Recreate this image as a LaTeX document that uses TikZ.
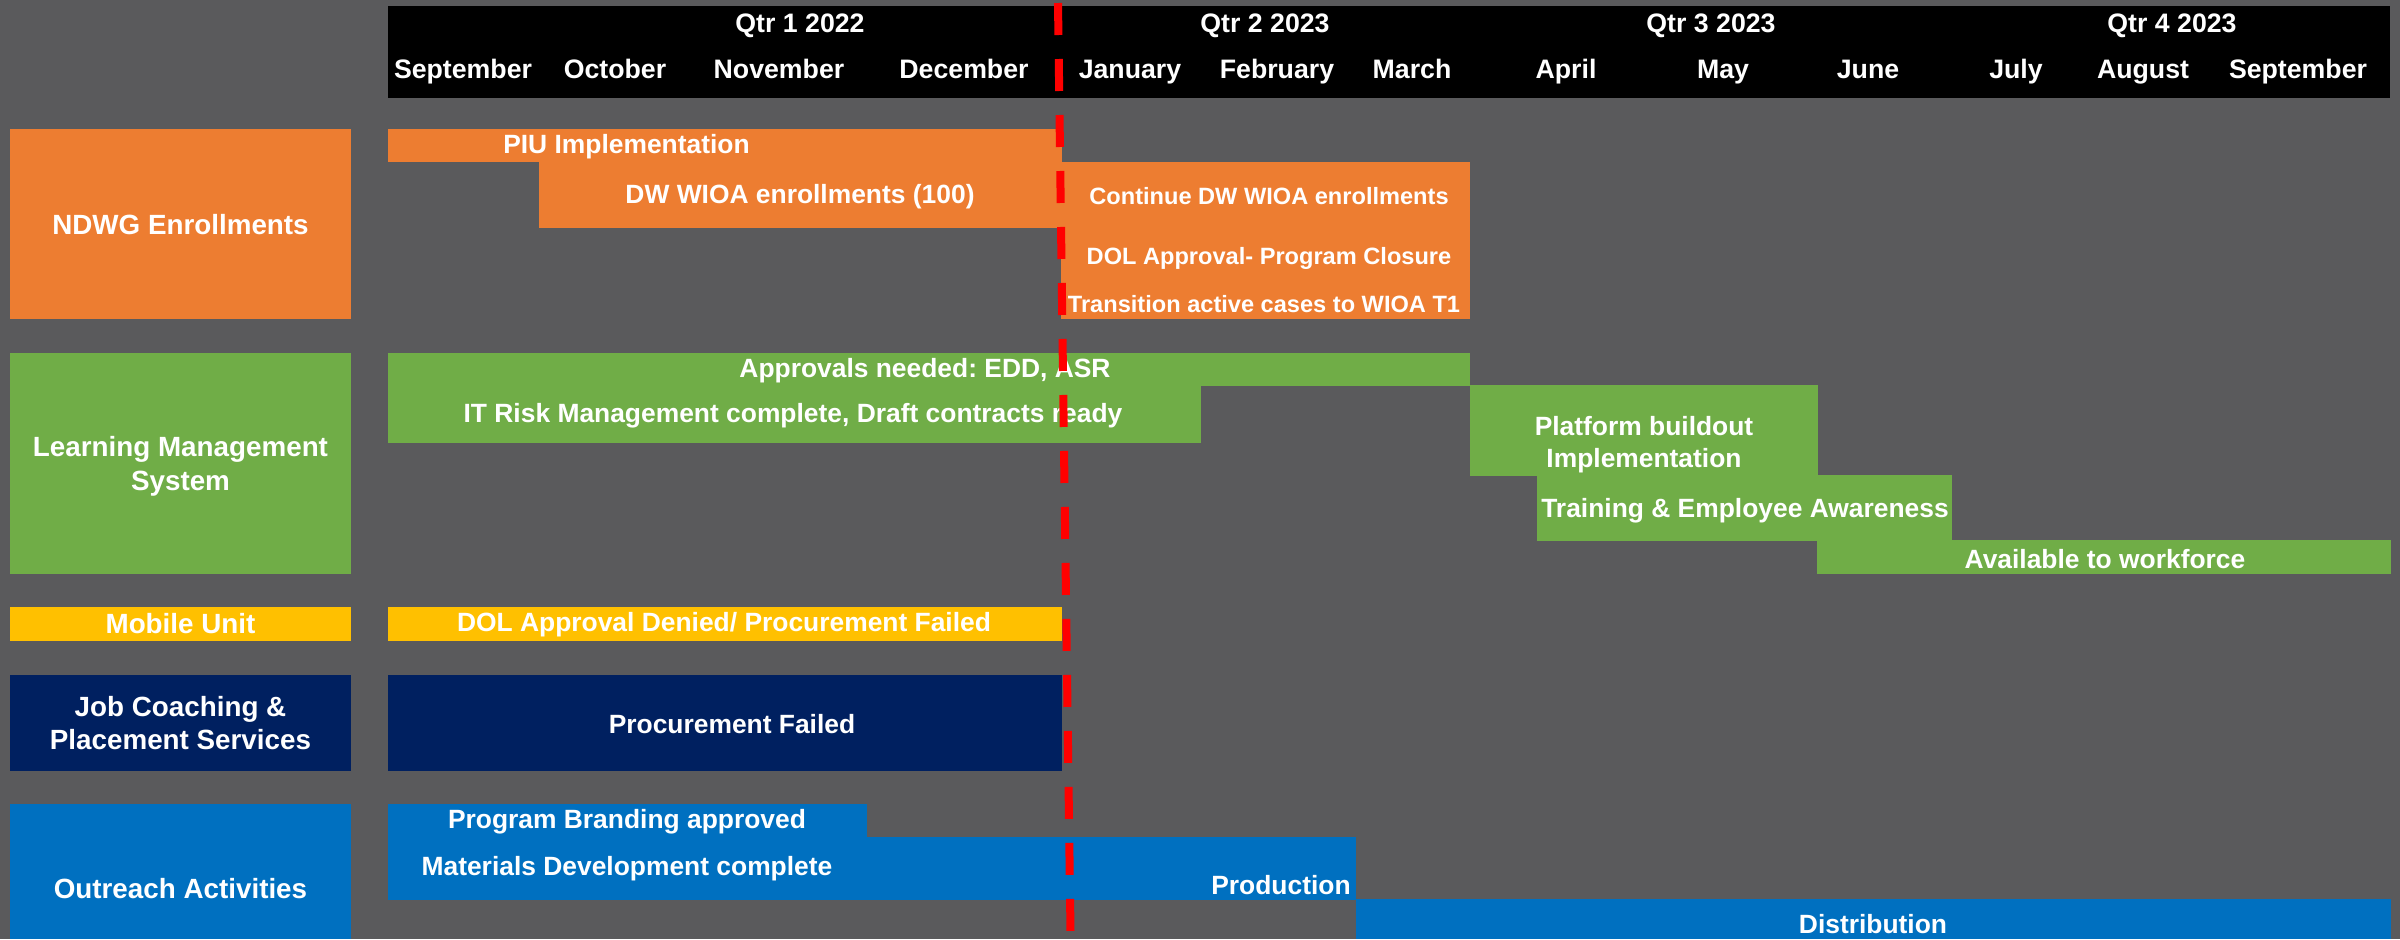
\documentclass[tikz,border=0pt]{standalone}
\usepackage{fontspec}
\setmainfont{Liberation Sans}
\frenchspacing
\definecolor{bgc}{RGB}{90,90,92}
\definecolor{orangeC}{HTML}{ED7D31}
\definecolor{greenC}{HTML}{70AD47}
\definecolor{goldC}{HTML}{FFC000}
\definecolor{navyC}{HTML}{002060}
\definecolor{blueC}{HTML}{0070C0}
\definecolor{redC}{HTML}{FF0000}
\tikzset{
  lbl/.style={text=white, inner sep=0pt, font=\bfseries\fontsize{13.2}{16.2}\selectfont, align=center},
  sm/.style={lbl, font=\bfseries\fontsize{11.8}{14}\selectfont},
  cat/.style={lbl, font=\bfseries\fontsize{13.9}{16.8}\selectfont},
  hdr/.style={lbl, anchor=base, font=\bfseries\fontsize{13.35}{16}\selectfont},
  today/.style={draw=redC, line width=4pt, dash pattern=on 16pt off 12pt}
}
\begin{document}
\begin{tikzpicture}[x=0.5pt, y=-0.5pt]
\fill[bgc] (0,0) rectangle (2400,939);
% header
\fill[black] (388,6) rectangle (2390,98);
\node[hdr] (q1) at (800,32.4) {Qtr 1 2022};
\node[hdr] (q2) at (1265,32.4) {Qtr 2 2023};
\node[hdr] (q3) at (1711,32.4) {Qtr 3 2023};
\node[hdr] (q4) at (2172,32.4) {Qtr 4 2023};
\node[hdr] (m1) at (463,78.6) {September};
\node[hdr] (m2) at (615,78.6) {October};
\node[hdr] (m3) at (779,78.6) {November};
\node[hdr] (m4) at (964,78.6) {December};
\node[hdr] (m5) at (1130,78.6) {January};
\node[hdr] (m6) at (1277,78.6) {February};
\node[hdr] (m7) at (1412,78.6) {March};
\node[hdr] (m8) at (1566,78.6) {April};
\node[hdr] (m9) at (1723,78.6) {May};
\node[hdr] (m10) at (1868,78.6) {June};
\node[hdr] (m11) at (2016,78.6) {July};
\node[hdr] (m12) at (2143,78.6) {August};
\node[hdr] (m13) at (2298,78.6) {September};
% categories
\fill[orangeC] (10,129) rectangle (351,319);
\node[cat] (c1) at (180.5,225) {NDWG Enrollments};
\fill[greenC] (10,353) rectangle (351,574);
\node[cat] (c2) at (180.5,466) {Learning Management\\System};
\fill[goldC] (10,607) rectangle (351,641);
\node[cat] (c3) at (180.5,624) {Mobile Unit};
\fill[navyC] (10,675) rectangle (351,771);
\node[cat] (c4) at (180.5,723) {Job Coaching \&\\Placement Services};
\fill[blueC] (10,804) rectangle (351,939);
\node[cat] (c5) at (180.5,889) {Outreach Activities};
% NDWG bars
\fill[orangeC] (388,129) rectangle (1062,162);
\node[lbl] (b1) at (626.5,147) {PIU Implementation};
\fill[orangeC] (539,161) rectangle (1062,228);
\node[lbl] (b2) at (800,197) {DW WIOA enrollments (100)};
\fill[orangeC] (1061,162) rectangle (1470,319);
\node[sm] (b3) at (1269,196) {Continue DW WIOA enrollments};
\node[sm] (b4) at (1269,258) {DOL Approval- Program Closure};
\node[sm] (b5) at (1264,304) {Transition active cases to WIOA T1};
% LMS bars
\fill[greenC] (388,353) rectangle (1470,386);
\node[lbl] (g1) at (925,371) {Approvals needed: EDD, ASR};
\fill[greenC] (388,385) rectangle (1201,443);
\node[lbl] (g2) at (793,416) {IT Risk Management complete, Draft contracts ready};
\fill[greenC] (1470,385) rectangle (1818,476);
\node[lbl] (g3) at (1644,444.5) {Platform buildout\\Implementation};
\fill[greenC] (1537,475) rectangle (1952,541);
\node[lbl] (g4) at (1745,511) {Training \& Employee Awareness};
\fill[greenC] (1817,540) rectangle (2391,574);
\node[lbl] (g5) at (2105,559) {Available to workforce};
% Mobile unit
\fill[goldC] (388,607) rectangle (1062,641);
\node[lbl] (y1) at (724,625) {DOL Approval Denied/ Procurement Failed};
% Job coaching
\fill[navyC] (388,675) rectangle (1062,771);
\node[lbl] (n1) at (732,724) {Procurement Failed};
% Outreach
\fill[blueC] (388,804) rectangle (867,838);
\node[lbl] (o1) at (627,822) {Program Branding approved};
\fill[blueC] (388,837) rectangle (1356,900);
\node[lbl] (o2) at (627,869) {Materials Development complete};
\node[lbl] (o3) at (1281,885) {Production};
\fill[blueC] (1356,899) rectangle (2391,939);
\node[lbl] (o4) at (1873,924) {Distribution};
% today line
\coordinate (tTop) at (1058,3);
\coordinate (tBot) at (1070.6,939);
\draw[today] (tTop) -- (tBot);
\pgfresetboundingbox
\useasboundingbox (0,0) rectangle (2400,939);
\end{tikzpicture}
\end{document}
